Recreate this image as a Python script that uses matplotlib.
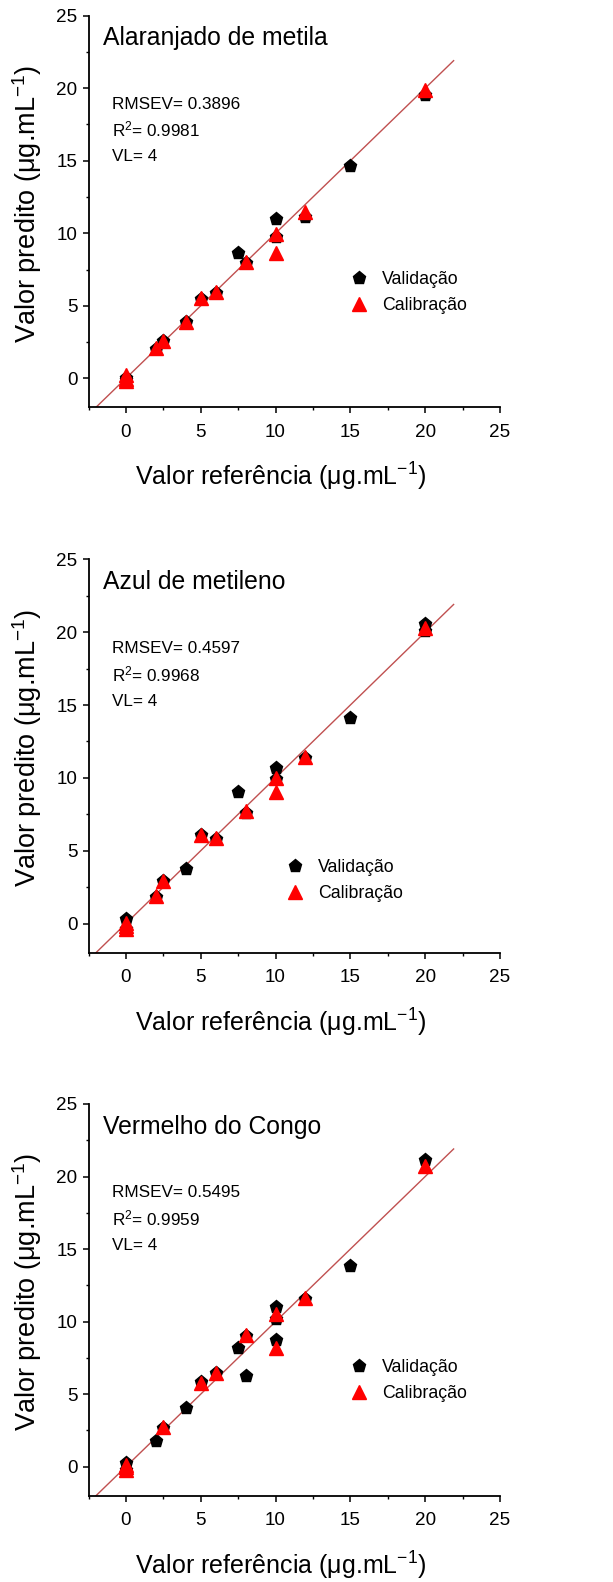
import matplotlib
matplotlib.use("Agg")
import matplotlib.pyplot as plt
from matplotlib.ticker import MultipleLocator
from matplotlib import font_manager

names = {f.name for f in font_manager.fontManager.ttflist}
NARROW = 'Liberation Sans Narrow' if 'Liberation Sans Narrow' in names else 'Liberation Sans'
k = 1.0 if NARROW == 'Liberation Sans Narrow' else 0.88

plt.rcParams['font.family'] = [NARROW, 'Liberation Sans', 'DejaVu Sans']
plt.rcParams['mathtext.fontset'] = 'custom'
plt.rcParams['mathtext.rm'] = NARROW
plt.rcParams['mathtext.it'] = NARROW + ':italic'
plt.rcParams['mathtext.default'] = 'regular'

# ---------------- data ----------------
titles = ["Alaranjado de metila", "Azul de metileno", "Vermelho do Congo"]
rmsev = ["0.3896", "0.4597", "0.5495"]
r2 = ["0.9981", "0.9968", "0.9959"]
vl = ["4", "4", "4"]

val_x1 = [0, 0, 2, 2.5, 4, 5, 6, 7.5, 8, 10, 10, 12, 15, 20]
val_y1 = [-0.15, 0.05, 2.0, 2.55, 3.85, 5.45, 5.9, 8.65, 7.95, 11.0, 9.75, 11.15, 14.65, 19.5]
cal_x1 = [0, 0, 0, 2, 2.5, 4, 5, 6, 8, 10, 10, 12, 20]
cal_y1 = [0.2, -0.05, -0.2, 2.1, 2.6, 3.9, 5.55, 5.95, 8.05, 9.95, 8.65, 11.45, 19.85]

val_x2 = [0, 0, 2, 2.5, 4, 5, 6, 7.5, 8, 10, 10, 12, 15, 20, 20]
val_y2 = [0.3, -0.4, 1.85, 2.9, 3.75, 6.1, 5.8, 9.0, 7.6, 10.65, 9.9, 11.35, 14.1, 20.55, 20.1]
cal_x2 = [0, 0, 0, 2, 2.5, 5, 6, 8, 10, 10, 12, 20]
cal_y2 = [0.05, -0.2, -0.35, 1.9, 2.95, 6.1, 5.85, 7.7, 10.0, 9.05, 11.45, 20.3]

val_x3 = [0, 0, 2, 2.5, 4, 5, 6, 7.5, 8, 8, 10, 10, 10, 12, 15, 20]
val_y3 = [0.25, -0.2, 1.8, 2.7, 4.05, 5.85, 6.45, 8.15, 9.0, 6.25, 11.0, 10.2, 8.7, 11.55, 13.85, 21.15]
cal_x3 = [0, 0, 0, 2.5, 5, 6, 8, 10, 10, 12, 20]
cal_y3 = [0.15, -0.05, -0.2, 2.75, 5.75, 6.45, 9.05, 10.55, 8.15, 11.65, 20.75]

ideal_x = [-2, 21.9]

val_x = [val_x1, val_x2, val_x3]
val_y = [val_y1, val_y2, val_y3]
cal_x = [cal_x1, cal_x2, cal_x3]
cal_y = [cal_y1, cal_y2, cal_y3]

# ---------------- layout ----------------
W, H = 613, 1582
fig = plt.figure(figsize=(W / 100, H / 100), dpi=100)
left, width = 88.5 / W, (500 - 88.5) / W
tops = [15.7, 559.3, 1104.0]
bottoms = [407.3, 952.7, 1495.7]
legend_pos = [(14.98, 5.92), (10.7, 2.97), (14.98, 5.93)]

line_color = '#c05050'

for i in range(3):
    b = 1 - bottoms[i] / H
    h = (bottoms[i] - tops[i]) / H
    ax = fig.add_axes([left, b, width, h])
    ax.plot(ideal_x, ideal_x, color=line_color, lw=1.0, zorder=1)
    ax.plot(val_x[i], val_y[i], linestyle='none', marker='p', ms=9.5,
            color='black', label='Validação', zorder=2)
    ax.plot(cal_x[i], cal_y[i], linestyle='none', marker='^', ms=9.5,
            color='#ff0000', label='Calibração', zorder=3)

    ax.set_xlim(-2.5, 25)
    ax.set_ylim(-2, 25)
    ax.xaxis.set_major_locator(MultipleLocator(5))
    ax.xaxis.set_minor_locator(MultipleLocator(2.5))
    ax.yaxis.set_major_locator(MultipleLocator(5))
    ax.yaxis.set_minor_locator(MultipleLocator(2.5))
    for s in ['top', 'right']:
        ax.spines[s].set_visible(False)
    for s in ['left', 'bottom']:
        ax.spines[s].set_linewidth(1.3)
    ax.tick_params(which='major', direction='out', length=4.5, width=1.1,
                   labelsize=15.5 * k)
    ax.tick_params(axis='x', which='major', pad=7.5)
    ax.tick_params(axis='y', which='major', pad=3.5)
    ax.tick_params(which='minor', direction='out', length=2.5, width=1.0)

    ax.text(-1.5, 22.95, titles[i], fontsize=20.3 * k, va='baseline', ha='left')
    ax.text(-0.95, 18.6, "RMSEV= " + rmsev[i], fontsize=14 * k, va='baseline')
    ax.text(-0.95, 16.65, "R$^2$= " + r2[i], fontsize=14 * k, va='baseline')
    ax.text(-0.95, 14.95, "VL= " + vl[i], fontsize=14 * k, va='baseline')

    ax.set_xlabel("Valor referência (μg.mL$^{-1}$)", fontsize=20.5 * k)
    ax.set_ylabel("Valor predito (μg.mL$^{-1}$)", fontsize=19.5,
                  family=['Liberation Sans', 'DejaVu Sans'])
    ax.xaxis.set_label_coords(0.468, -0.179)
    ax.xaxis.label.set_va('center')
    ax.yaxis.set_label_coords(-0.149, 0.52)
    ax.yaxis.label.set_va('center')

    lx, ly = legend_pos[i]
    ax.legend(loc='center left', bbox_to_anchor=(lx, ly),
              bbox_transform=ax.transData, frameon=False, fontsize=14.5 * k,
              handlelength=1.0, handletextpad=0.8, labelspacing=0.5,
              borderpad=0, borderaxespad=0, numpoints=1)

fig.savefig("out.png", dpi=100)
